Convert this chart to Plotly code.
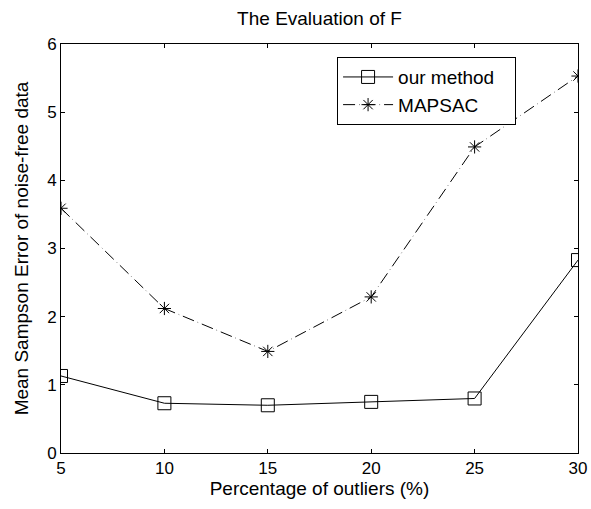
import plotly.graph_objects as go

outliers = [5, 10, 15, 20, 25, 30]
our_method = [1.13, 0.73, 0.70, 0.75, 0.80, 2.83]
mapsac = [3.59, 2.12, 1.49, 2.29, 4.49, 5.53]
x_ticks = [5, 10, 15, 20, 25, 30]
y_ticks = [0, 1, 2, 3, 4, 5, 6]
series_names = ["our method", "MAPSAC"]

FONT = "Liberation Sans, Arial, sans-serif"
PAD = "\u00a0\u00a0\u00a0"

fig = go.Figure()
fig.add_trace(go.Scatter(
    x=outliers, y=our_method, name=series_names[0] + PAD, mode="lines+markers",
    line=dict(color="black", width=1),
    marker=dict(symbol="square-open", size=13, color="black", line=dict(width=1)),
))
fig.add_trace(go.Scatter(
    x=outliers, y=mapsac, name=series_names[1] + PAD, mode="lines+markers",
    line=dict(color="black", width=1, dash="12px,4px,0.5px,4px"),
    marker=dict(symbol="asterisk-open", size=11, color="black", line=dict(width=1, color="black")),
))

axis_common = dict(
    showline=True, linecolor="black", linewidth=1, mirror="ticks",
    ticks="inside", ticklen=4, tickcolor="black", showgrid=False, zeroline=False,
    tickfont=dict(size=17, color="black", family=FONT), automargin=False,
)
fig.update_xaxes(range=[5, 30], tickvals=x_ticks,
                 title=dict(text="Percentage of outliers (%)", font=dict(size=19, color="black", family=FONT), standoff=4),
                 **axis_common)
fig.update_yaxes(range=[0, 6], tickvals=y_ticks,
                 title=dict(text="Mean Sampson Error of noise-free data", font=dict(size=19, color="black", family=FONT), standoff=13),
                 **axis_common)

fig.update_layout(
    width=591, height=509,
    margin=dict(l=61, r=13, t=44, b=56),
    paper_bgcolor="white", plot_bgcolor="white",
    title=dict(text="The Evaluation of F", x=0.5, xanchor="center", xref="paper",
               y=0.963, yanchor="middle",
               font=dict(size=19, color="black", family=FONT)),
    font=dict(family=FONT, color="black"),
    legend=dict(x=0.534, y=0.968, xanchor="left", yanchor="top",
                bordercolor="black", borderwidth=1, bgcolor="white",
                font=dict(size=19, color="black", family=FONT),
                tracegroupgap=0, itemwidth=50),
    showlegend=True,
)

fig.write_html("out.html", config={"displayModeBar": False},
               post_script="document.body.style.margin='0';")
